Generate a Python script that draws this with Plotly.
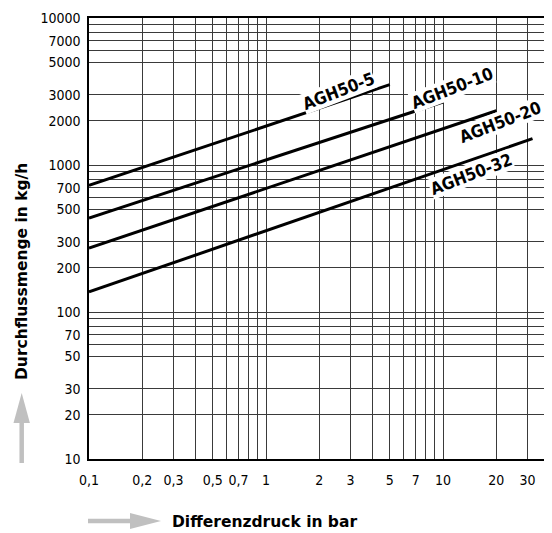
import plotly.graph_objects as go
import numpy as np

# Data: differential pressure [bar] vs flow [kg/h]
series_names = ["AGH50-5", "AGH50-10", "AGH50-20", "AGH50-32"]
agh5_x = [0.1, 5]
agh5_y = [726, 3520]
agh10_x = [0.1, 10]
agh10_y = [436, 2685]
agh20_x = [0.1, 20]
agh20_y = [272, 2340]
agh32_x = [0.1, 32]
agh32_y = [137, 1510]

x_tickvals = [0.1, 0.2, 0.3, 0.5, 0.7, 1, 2, 3, 5, 7, 10, 20, 30]
x_ticktext = ["0,1", "0,2", "0,3", "0,5", "0,7", "1", "2", "3", "5", "7", "10", "20", "30"]
x_minor = [0.4, 0.6, 0.8, 0.9, 4, 6, 8, 9]
y_tickvals = [10, 20, 30, 50, 70, 100, 200, 300, 500, 700, 1000, 2000, 3000, 5000, 7000, 10000]
y_ticktext = [str(v) for v in y_tickvals]
y_minor = [60, 80, 90, 600, 800, 900, 6000, 8000, 9000]

# label anchor positions (log10 units)
label_pos = [(0.411, 3.501), (1.053, 3.526), (1.324, 3.295), (1.160, 2.941)]

OFF = 8  # page margin of the html body
W, H = 552 - OFF, 533 - OFF
L, R, T, B = 89 - OFF, 1, 18 - OFF, 74
PW, PH = W - L - R, H - T - B


def px(xp):
    return (xp - OFF - L) / PW


def py(yp):
    return (H - B - (yp - OFF)) / PH


fig = go.Figure()
for xs, ys in [(agh5_x, agh5_y), (agh10_x, agh10_y), (agh20_x, agh20_y), (agh32_x, agh32_y)]:
    fig.add_trace(go.Scatter(x=xs, y=ys, mode="lines",
                             line=dict(color="black", width=3), showlegend=False,
                             hoverinfo="skip"))

for name, (lx, ly) in zip(series_names, label_pos):
    fig.add_annotation(x=lx, y=ly, xref="x", yref="y", text="<b>" + name + "</b>",
                       showarrow=False, textangle=-21, bgcolor="white", borderpad=0,
                       font=dict(family="DejaVu Sans Condensed, DejaVu Sans", size=17, color="black"))

tickfont = dict(family="DejaVu Sans Condensed, Liberation Sans", size=14, color="black")
gridc = "#3a3a3a"

fig.update_xaxes(type="log", range=[-1, np.log10(40.7)], automargin=False, tickangle=0,
                 tickmode="array", tickvals=x_tickvals, ticktext=x_ticktext,
                 showgrid=True, gridcolor=gridc, gridwidth=1,
                 minor=dict(tickmode="array", tickvals=x_minor, showgrid=True,
                            gridcolor=gridc, gridwidth=1, ticks=""),
                 showline=True, linecolor="black", linewidth=1.5, mirror=True,
                 ticks="", ticklabelstandoff=7, tickfont=tickfont, zeroline=False)
fig.update_yaxes(type="log", range=[1, 4], automargin=False,
                 tickmode="array", tickvals=y_tickvals, ticktext=y_ticktext,
                 showgrid=True, gridcolor=gridc, gridwidth=1,
                 minor=dict(tickmode="array", tickvals=y_minor, showgrid=True,
                            gridcolor=gridc, gridwidth=1, ticks=""),
                 showline=True, linecolor="black", linewidth=1.5, mirror=True,
                 ticks="", ticklabelstandoff=4, tickfont=tickfont, zeroline=False)

titlefont = dict(family="DejaVu Sans", size=15.5, color="black")
# axis titles
fig.add_annotation(xref="paper", yref="paper", x=px(264), y=py(522),
                   text="<b>Differenzdruck in bar</b>", showarrow=False,
                   font=titlefont, xanchor="center", yanchor="middle")
fig.add_annotation(xref="paper", yref="paper", x=px(22), y=py(272),
                   text="<b>Durchflussmenge in kg/h</b>", showarrow=False, textangle=-90,
                   font=titlefont, xanchor="center", yanchor="middle")

# grey arrows drawn as shapes
arrow_c = "#c0c0c0"
fig.add_shape(type="line", xref="paper", yref="paper", x0=px(88), x1=px(132),
              y0=py(521), y1=py(521), line=dict(color=arrow_c, width=4.5))
fig.add_shape(type="path", xref="paper", yref="paper",
              path=f"M {px(130)} {py(513)} L {px(161)} {py(521)} L {px(130)} {py(529)} Z",
              fillcolor=arrow_c, line=dict(color=arrow_c, width=0))
fig.add_shape(type="line", xref="paper", yref="paper", x0=px(21.7), x1=px(21.7),
              y0=py(463), y1=py(421), line=dict(color=arrow_c, width=4.5))
fig.add_shape(type="path", xref="paper", yref="paper",
              path=f"M {px(13.5)} {py(423)} L {px(21.7)} {py(393)} L {px(29.9)} {py(423)} Z",
              fillcolor=arrow_c, line=dict(color=arrow_c, width=0))

fig.update_layout(width=W, height=H, margin=dict(l=L, r=R, t=T, b=B),
                  paper_bgcolor="white", plot_bgcolor="white", showlegend=False)
fig.write_html("out.html")
